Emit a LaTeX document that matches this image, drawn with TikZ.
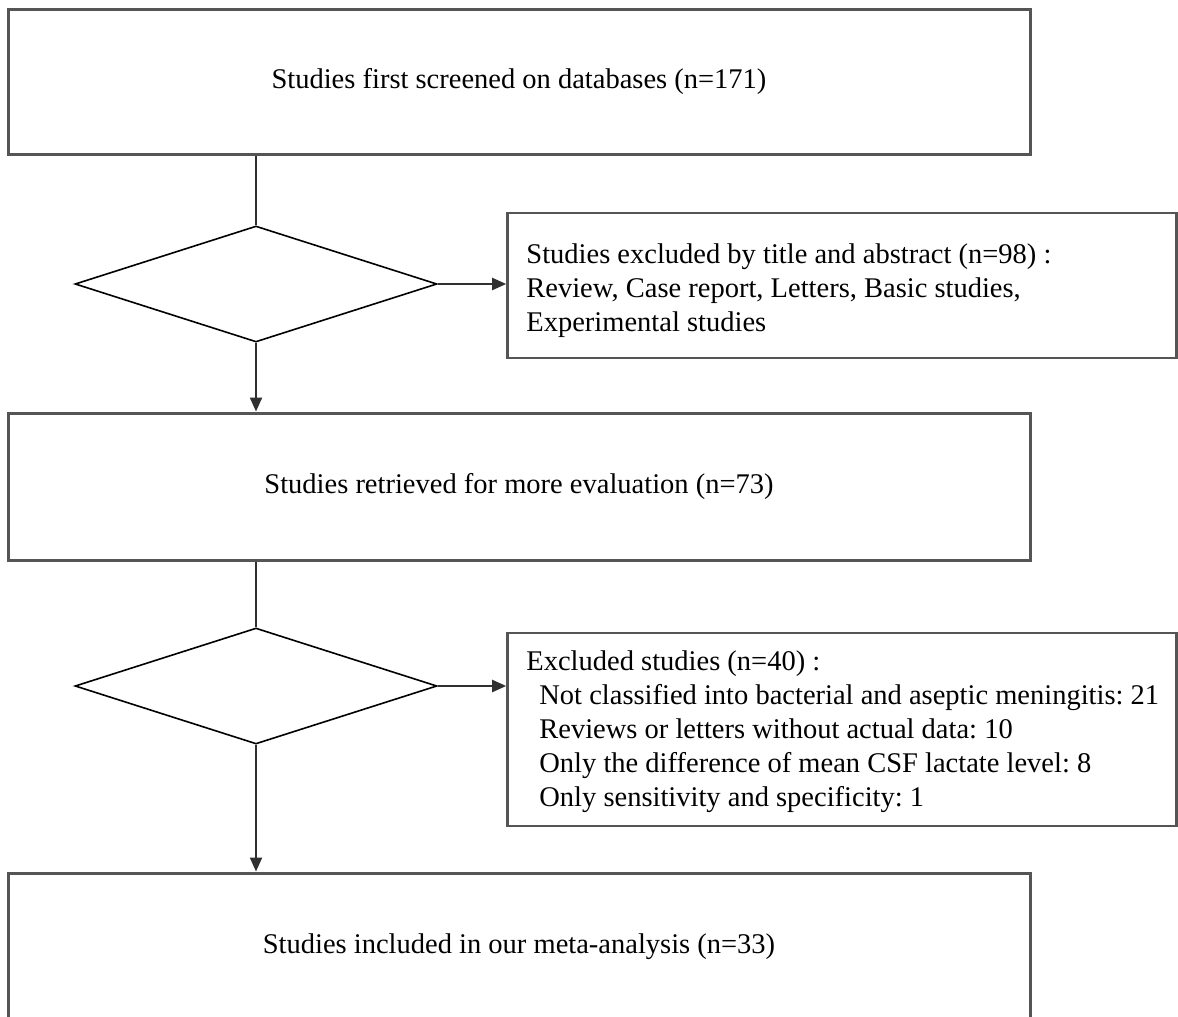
\documentclass[tikz,border=0pt]{standalone}
\usepackage{fontspec}
\setmainfont{Liberation Serif}
\usetikzlibrary{shapes.geometric,arrows.meta}
\definecolor{boxgray}{HTML}{555555}
\definecolor{linegray}{HTML}{303030}
\tikzset{
  bigbox/.style={draw=boxgray, line width=3pt, rectangle, inner sep=0pt,
    minimum width=1022pt, minimum height=145pt, align=center},
  sidebox/.style={draw=boxgray, line width=2.6pt, rectangle, inner sep=0pt,
    minimum width=669pt},
  sidetext/.style={anchor=west, inner sep=0pt, align=left},
  decide/.style={draw=black, line width=1.6pt, diamond, inner sep=0pt,
    minimum width=362pt, minimum height=116pt},
  link/.style={draw=linegray, line width=2.2pt},
  arrowlink/.style={link, -{Triangle[length=14pt,width=12pt]}},
}
\begin{document}
\frenchspacing
\begin{tikzpicture}[x=1pt,y=-1pt,font=\fontsize{28.5}{34}\selectfont]
\useasboundingbox (0,0) rectangle (1178,1017);
\fill[white] (0,0) rectangle (1178,1017);
% boxes
\node[bigbox] (b1) at (519,81.5) {Studies first screened on databases (n=171)};
\node[sidebox, minimum height=145pt] (b2) at (842,285.5) {};
\node[sidetext] (t2) at ([xshift=20pt,yshift=-5pt]b2.west) {Studies excluded by title and abstract (n=98) :\\
Review, Case report, Letters, Basic studies,\\
Experimental studies};
\node[bigbox, minimum height=147pt] (b3) at (519,486.5) {Studies retrieved for more evaluation (n=73)};
\node[sidebox, minimum height=193pt] (b4) at (842,729.5) {};
\node[sidetext] (t4) at ([xshift=20pt,yshift=-2pt]b4.west) {Excluded studies (n=40) :\\
\hspace*{13pt}Not classified into bacterial and aseptic meningitis: 21\\
\hspace*{13pt}Reviews or letters without actual data: 10\\
\hspace*{13pt}Only the difference of mean CSF lactate level: 8\\
\hspace*{13pt}Only sensitivity and specificity: 1};
\node[bigbox, minimum height=147pt] (b5) at (519,946.5) {Studies included in our meta-analysis (n=33)};
% decisions
\node[decide] (d1) at (256,284) {};
\node[decide] (d2) at (256,686) {};
% connectors
\draw[link] (b1.south -| d1.north) -- (d1.north);
\draw[arrowlink] (d1.east) -- (d1.east -| b2.west);
\draw[arrowlink] (d1.south) -- (d1.south |- b3.north);
\draw[link] (b3.south -| d2.north) -- (d2.north);
\draw[arrowlink] (d2.east) -- (d2.east -| b4.west);
\draw[arrowlink] (d2.south) -- (d2.south |- b5.north);
\end{tikzpicture}
\end{document}
